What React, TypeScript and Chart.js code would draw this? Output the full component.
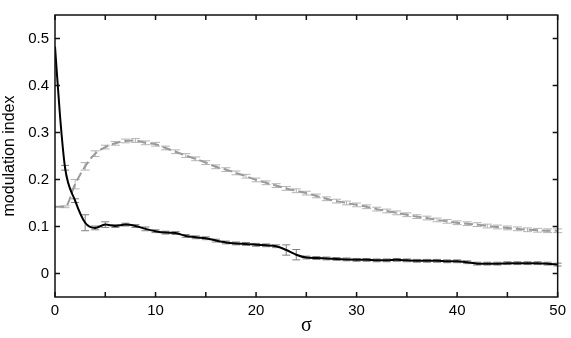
import React, { useEffect, useRef } from "react";
import { Chart, registerables } from "chart.js";

Chart.register(...registerables);

const sigma = [0, 0.5, 1, 2, 3, 4, 5, 6, 7, 8, 9, 10, 11, 12, 13, 14, 15, 16, 17, 18, 19, 20, 21, 22, 23, 24, 25, 26, 27, 28, 29, 30, 31, 32, 33, 34, 35, 36, 37, 38, 39, 40, 41, 42, 43, 44, 45, 46, 47, 48, 49, 50];

const blackIndex = [0.483, 0.335, 0.225, 0.155, 0.108, 0.097, 0.104, 0.101, 0.104, 0.101, 0.095, 0.09, 0.087, 0.086, 0.08, 0.077, 0.075, 0.07, 0.066, 0.064, 0.063, 0.061, 0.06, 0.058, 0.05, 0.04, 0.034, 0.033, 0.032, 0.031, 0.03, 0.029, 0.029, 0.028, 0.028, 0.029, 0.028, 0.027, 0.027, 0.027, 0.026, 0.026, 0.024, 0.021, 0.021, 0.021, 0.022, 0.022, 0.022, 0.022, 0.021, 0.019];
const blackErr = [0, 0, 0.005, 0.004, 0.017, 0.004, 0.006, 0.003, 0.003, 0.003, 0.004, 0.003, 0.003, 0.003, 0.003, 0.003, 0.003, 0.003, 0.003, 0.003, 0.003, 0.003, 0.003, 0.003, 0.011, 0.011, 0.003, 0.003, 0.003, 0.003, 0.003, 0.003, 0.003, 0.003, 0.003, 0.003, 0.003, 0.003, 0.003, 0.003, 0.003, 0.003, 0.003, 0.003, 0.003, 0.003, 0.003, 0.003, 0.003, 0.003, 0.003, 0.003];

const grayIndex = [0.142, 0.142, 0.142, 0.19, 0.228, 0.255, 0.269, 0.277, 0.282, 0.283, 0.278, 0.275, 0.267, 0.259, 0.251, 0.244, 0.236, 0.227, 0.221, 0.214, 0.207, 0.199, 0.193, 0.187, 0.181, 0.176, 0.171, 0.165, 0.159, 0.154, 0.15, 0.146, 0.142, 0.137, 0.133, 0.129, 0.125, 0.121, 0.118, 0.114, 0.111, 0.108, 0.106, 0.104, 0.101, 0.099, 0.097, 0.095, 0.093, 0.092, 0.091, 0.091];
const grayErr = [0, 0, 0.002, 0.01, 0.008, 0.006, 0.004, 0.004, 0.004, 0.004, 0.004, 0.004, 0.004, 0.004, 0.004, 0.004, 0.004, 0.004, 0.004, 0.004, 0.004, 0.004, 0.004, 0.004, 0.004, 0.004, 0.004, 0.004, 0.004, 0.004, 0.004, 0.004, 0.004, 0.004, 0.004, 0.004, 0.004, 0.004, 0.004, 0.004, 0.004, 0.004, 0.004, 0.004, 0.004, 0.004, 0.004, 0.004, 0.004, 0.004, 0.004, 0.004];

const xTickLabels = [0, 10, 20, 30, 40, 50];
const xMinorTicks = [0, 5, 10, 15, 20, 25, 30, 35, 40, 45, 50];
const yTickLabels = [0, 0.1, 0.2, 0.3, 0.4, 0.5];

const errColors = ["#808080", "#b4b4b4"];
const errCapWidth = [8, 9];

const errorBarPlugin = {
  id: "errorBars",
  beforeDatasetsDraw(chart: any) {
    const ctx = chart.ctx;
    const xs = chart.scales.x;
    const ys = chart.scales.y;
    const errs = [blackErr, grayErr];
    const vals = [blackIndex, grayIndex];
    ctx.save();
    ctx.lineWidth = 1;
    for (let d = 1; d >= 0; d--) {
      ctx.strokeStyle = errColors[d];
      for (let i = 0; i < sigma.length; i++) {
        const e = errs[d][i];
        if (!e) continue;
        const px = xs.getPixelForValue(sigma[i]);
        const pTop = ys.getPixelForValue(vals[d][i] + e);
        const pBot = ys.getPixelForValue(vals[d][i] - e);
        const hw = errCapWidth[d] / 2;
        ctx.beginPath();
        ctx.moveTo(px, pTop);
        ctx.lineTo(px, pBot);
        ctx.moveTo(px - hw, pTop);
        ctx.lineTo(px + hw, pTop);
        ctx.moveTo(px - hw, pBot);
        ctx.lineTo(px + hw, pBot);
        ctx.stroke();
      }
    }
    ctx.restore();
  },
};

const framePlugin = {
  id: "frame",
  afterDraw(chart: any) {
    const ctx = chart.ctx;
    const a = chart.chartArea;
    const xs = chart.scales.x;
    const ys = chart.scales.y;
    const tl = 5;
    ctx.save();
    ctx.strokeStyle = "#111";
    ctx.lineWidth = 1.5;
    ctx.strokeRect(a.left, a.top, a.right - a.left, a.bottom - a.top);
    ctx.beginPath();
    xMinorTicks.forEach((v) => {
      const px = xs.getPixelForValue(v);
      ctx.moveTo(px, a.bottom);
      ctx.lineTo(px, a.bottom - tl);
      ctx.moveTo(px, a.top);
      ctx.lineTo(px, a.top + tl);
    });
    yTickLabels.forEach((v) => {
      const py = ys.getPixelForValue(v);
      ctx.moveTo(a.left, py);
      ctx.lineTo(a.left + tl, py);
      ctx.moveTo(a.right, py);
      ctx.lineTo(a.right - tl, py);
    });
    ctx.stroke();
    ctx.restore();
  },
};

export default function App() {
  const ref = useRef<HTMLCanvasElement | null>(null);
  useEffect(() => {
    document.body.style.margin = "0";
    const canvas = ref.current;
    if (!canvas) return;
    const chart = new Chart(canvas, {
      type: "line",
      data: {
        datasets: [
          {
            label: "black",
            data: sigma.map((s, i) => ({ x: s, y: blackIndex[i] })),
            borderColor: "#000000",
            borderWidth: 2,
            pointRadius: 0,
            cubicInterpolationMode: "monotone",
            fill: false,
          },
          {
            label: "gray",
            data: sigma.map((s, i) => ({ x: s, y: grayIndex[i] })),
            borderColor: "#9a9a9a",
            borderWidth: 2,
            borderDash: [9, 4],
            pointRadius: 0,
            cubicInterpolationMode: "monotone",
            fill: false,
          },
        ],
      },
      options: {
        animation: false,
        responsive: false,
        maintainAspectRatio: false,
        layout: { padding: { top: 4, right: 11, left: 0, bottom: 0 } },
        plugins: { legend: { display: false }, tooltip: { enabled: false } },
        scales: {
          x: {
            type: "linear",
            min: 0,
            max: 50,
            grid: { display: false, drawTicks: false },
            border: { display: false },
            afterBuildTicks: (s: any) => {
              s.ticks = xTickLabels.map((v) => ({ value: v }));
            },
            afterFit: (s: any) => {
              s.height = 41;
            },
            ticks: {
              padding: 5,
              color: "#000",
              font: { family: "Liberation Sans, Arial, sans-serif", size: 15 },
              maxRotation: 0,
              autoSkip: false,
              callback: (v: any) => String(v),
            },
            title: {
              display: true,
              text: "σ",
              color: "#000",
              font: { family: "Liberation Serif, serif", size: 20 },
              padding: 0,
            },
          },
          y: {
            type: "linear",
            min: -0.05,
            max: 0.55,
            grid: { display: false, drawTicks: false },
            border: { display: false },
            afterBuildTicks: (s: any) => {
              s.ticks = yTickLabels.map((v) => ({ value: v }));
            },
            afterFit: (s: any) => {
              s.width = 55;
            },
            ticks: {
              padding: 6,
              color: "#000",
              font: { family: "Liberation Sans, Arial, sans-serif", size: 15 },
              autoSkip: false,
              callback: (v: any) => String(Math.round(v * 10) / 10),
            },
            title: {
              display: true,
              text: "modulation index",
              color: "#000",
              font: { family: "Liberation Sans, Arial, sans-serif", size: 16 },
              padding: 0,
            },
          },
        },
      },
      plugins: [errorBarPlugin, framePlugin],
    });
    return () => chart.destroy();
  }, []);
  return (
    <div style={{ position: "absolute", left: 0, top: 0, width: 571, height: 338, background: "#fff" }}>
      <canvas ref={ref} width={571} height={338} style={{ width: 571, height: 338 }} />
    </div>
  );
}
